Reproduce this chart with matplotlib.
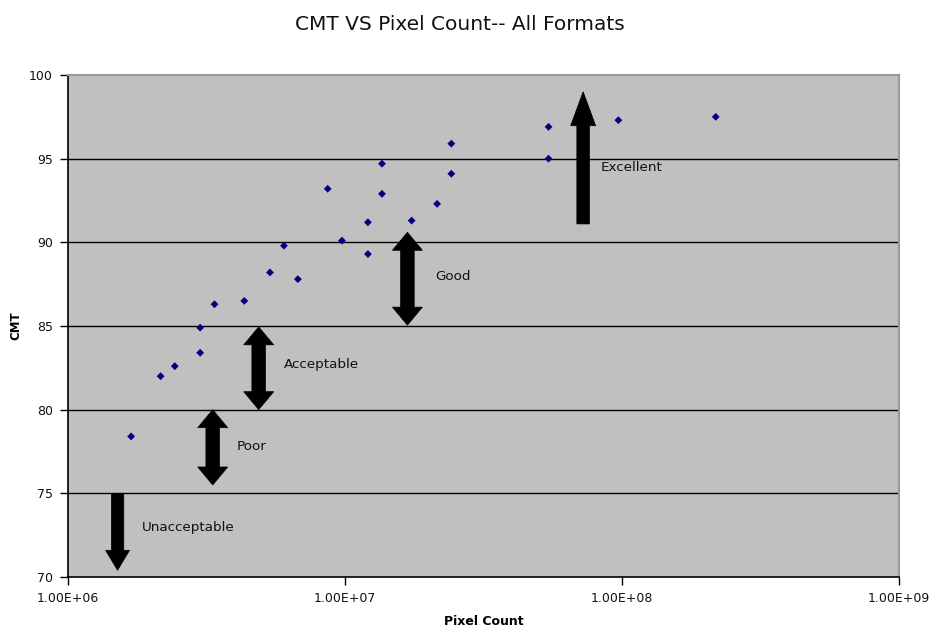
import matplotlib
matplotlib.use("Agg")
import matplotlib.pyplot as plt
from matplotlib.patches import Polygon
from matplotlib.ticker import FixedLocator, FuncFormatter, NullLocator
import numpy as np

# Measured formats: pixel count vs. CMT score
pixel_count = [1.69e6, 2.16e6, 2.43e6, 3.0e6, 3.0e6, 3.38e6, 4.33e6, 5.36e6,
               6.02e6, 6.76e6, 8.66e6, 9.75e6, 1.21e7, 1.21e7, 1.36e7, 1.36e7,
               1.74e7, 2.15e7, 2.42e7, 2.42e7, 5.43e7, 5.43e7, 9.7e7, 2.18e8]
cmt = [78.4, 82.0, 82.6, 83.4, 84.9, 86.3, 86.5, 88.2,
       89.8, 87.8, 93.2, 90.1, 91.2, 89.3, 94.7, 92.9,
       91.3, 92.3, 95.9, 94.1, 96.9, 95.0, 97.3, 97.5]

# Quality bands: label, arrow x position, arrow y extent, which ends get heads
band_labels = ["Unacceptable", "Poor", "Acceptable", "Good", "Excellent"]
band_x = [1.51e6, 3.33e6, 4.88e6, 1.68e7, 7.24e7]
band_y_from = [75.0, 75.5, 80.0, 85.05, 91.1]
band_y_to = [70.4, 80.0, 84.95, 90.6, 99.0]
band_heads = ["end", "both", "both", "both", "end"]
band_label_y = [72.96, 77.8, 82.72, 87.95, 94.48]
band_label_dx = [24, 24, 25, 28, 17]

W, H, DPI = 931, 627, 100
fig = plt.figure(figsize=(W / DPI, H / DPI), dpi=DPI)
L, R, T, B = 68, 899, 75, 577
ax = fig.add_axes([L / W, 1 - B / H, (R - L) / W, (B - T) / H])
ax.set_facecolor("#c0c0c0")
ax.set_xscale("log")
ax.set_xlim(1e6, 1e9)
ax.set_ylim(70, 100)

for yv in [75, 80, 85, 90, 95]:
    ax.axhline(yv, color="black", lw=1.0, zorder=1)

ax.scatter(pixel_count, cmt, marker="D", s=16, color="#000080",
           edgecolors="none", zorder=3)

# arrow geometry in pixels
dec_px = (R - L) / 3.0
unit_px = (B - T) / 30.0


def fat_arrow(xc, y0, y1, heads, shaft_hw=6.8, head_hw=15, head_len=18):
    def xo(dx):
        return xc * 10 ** (dx / dec_px)
    direction = 1 if y1 > y0 else -1
    hl = head_len / unit_px * direction
    pts = []
    if heads == "both":
        pts += [(xc, y0), (xo(head_hw), y0 + hl), (xo(shaft_hw), y0 + hl)]
    else:
        pts += [(xo(shaft_hw), y0)]
    pts += [(xo(shaft_hw), y1 - hl), (xo(head_hw), y1 - hl), (xc, y1),
            (xo(-head_hw), y1 - hl), (xo(-shaft_hw), y1 - hl)]
    if heads == "both":
        pts += [(xo(-shaft_hw), y0 + hl), (xo(-head_hw), y0 + hl)]
    else:
        pts += [(xo(-shaft_hw), y0)]
    ax.add_patch(Polygon(pts, closed=True, facecolor="black",
                         edgecolor="black", lw=0.5, zorder=4))


for lab, xc, ya, yb, hd, ly, dx in zip(band_labels, band_x, band_y_from,
                                       band_y_to, band_heads, band_label_y,
                                       band_label_dx):
    if lab == "Excellent":
        fat_arrow(xc, ya, yb, hd, shaft_hw=6.3, head_hw=12.5, head_len=34)
    elif lab == "Unacceptable":
        fat_arrow(xc, ya, yb, hd, shaft_hw=6.2, head_hw=12, head_len=20)
    else:
        fat_arrow(xc, ya, yb, hd)
    ax.annotate(lab, xy=(xc, ly), xytext=(dx, 0),
                textcoords="offset pixels", ha="left", va="center",
                fontsize=9.7, color="#111111", zorder=5)

ax.xaxis.set_major_locator(FixedLocator([1e6, 1e7, 1e8, 1e9]))
ax.xaxis.set_minor_locator(NullLocator())
ax.xaxis.set_major_formatter(FuncFormatter(
    lambda v, p: "1.00E+%02d" % int(round(np.log10(v)))))
ax.set_yticks([70, 75, 80, 85, 90, 95, 100])
ax.tick_params(axis="both", direction="out", length=6, width=1,
               labelsize=9, colors="black", pad=5)
ax.tick_params(axis="both", labelcolor="#111111")

for side in ["left", "bottom"]:
    ax.spines[side].set_color("black")
    ax.spines[side].set_linewidth(1.2)
for side in ["top", "right"]:
    ax.spines[side].set_color("#9a9a9a")
    ax.spines[side].set_linewidth(1.5)

ax.set_xlabel("Pixel Count", fontsize=9, fontweight="bold", labelpad=7)
ax.set_ylabel("CMT", fontsize=8.5, fontweight="bold", labelpad=5)
fig.text(460 / W, 1 - 24 / H, "CMT VS Pixel Count-- All Formats",
         ha="center", va="center", fontsize=14.5, color="#111111")

fig.savefig("out.png", dpi=DPI, facecolor="white")
